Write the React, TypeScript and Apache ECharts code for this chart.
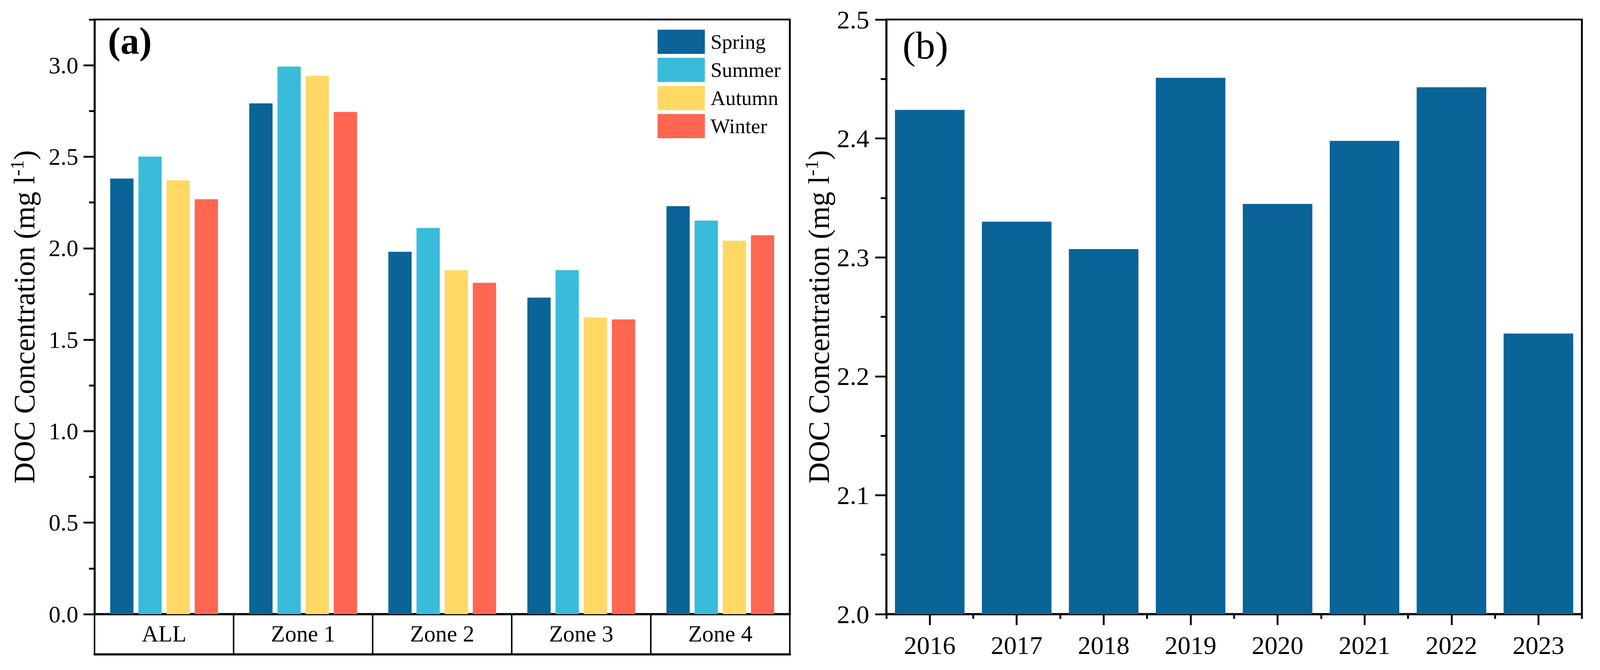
import React, { useEffect, useRef } from "react";
import * as echarts from "echarts";

const FONT = "'Liberation Serif', 'Times New Roman', serif";

// Panel (a): seasonal DOC by zone
const zoneCategories = ["ALL", "Zone 1", "Zone 2", "Zone 3", "Zone 4"];
const seasonNames = ["Spring", "Summer", "Autumn", "Winter"];
const springValues = [2.381, 2.792, 1.981, 1.73, 2.23];
const summerValues = [2.501, 2.993, 2.111, 1.88, 2.151];
const autumnValues = [2.371, 2.942, 1.88, 1.621, 2.041];
const winterValues = [2.268, 2.745, 1.811, 1.611, 2.071];
const seasonColors = ["#0A6497", "#39BCD9", "#FFD964", "#FF6652"];
const zoneMajorTicks = [0, 0.5, 1, 1.5, 2, 2.5, 3];
const zoneMinorTicks = [0.25, 0.75, 1.25, 1.75, 2.25, 2.75, 3.25];

// Panel (b): annual DOC
const years = ["2016", "2017", "2018", "2019", "2020", "2021", "2022", "2023"];
const yearValues = [2.424, 2.33, 2.307, 2.451, 2.345, 2.398, 2.443, 2.236];
const yearColor = "#0A6497";

const seasonValues = [springValues, summerValues, autumnValues, winterValues];

export default function App() {
  const ref = useRef<HTMLDivElement>(null);
  useEffect(() => {
    document.body.style.margin = "0";
    document.body.style.overflow = "hidden";
    const el = ref.current;
    if (!el) return;
    const W = window.innerWidth || 4331;
    const H = window.innerHeight || 1716;
    el.style.width = W + "px";
    el.style.height = H + "px";
    const sx = W / 4331;
    const sy = H / 1716;
    const s = Math.min(sx, sy);
    const X = (v: number) => v * sx;
    const Y = (v: number) => v * sy;
    const S = (v: number) => v * s;

    const chart = echarts.init(el, undefined, { renderer: "svg" });
    const line = { color: "#000", width: S(5) };
    const yTitle = "{t|DOC Concentration (mg l}{s|-1}{t|)}";
    const yTitleRich = {
      t: { fontSize: S(80), fontFamily: FONT, color: "#000", verticalAlign: "bottom" },
      s: { fontSize: S(52), fontFamily: FONT, color: "#000", verticalAlign: "bottom", padding: [0, 0, S(34), 0] },
    };
    const option: any = {
      animation: false,
      backgroundColor: "#fff",
      textStyle: { fontFamily: FONT, color: "#000" },
      grid: [
        { left: X(256), top: Y(50), width: X(1882), height: Y(1523), show: true, borderColor: "#000", borderWidth: S(5) },
        { left: X(2399), top: Y(50), width: X(1883), height: Y(1523), show: true, borderColor: "#000", borderWidth: S(5) },
      ],
      legend: {
        data: seasonNames,
        orient: "vertical",
        left: X(1780),
        top: Y(76),
        padding: 0,
        itemWidth: X(128),
        itemHeight: Y(62),
        itemGap: Y(10),
        icon: "rect",
        textStyle: { fontSize: S(56), fontFamily: FONT, color: "#000", padding: [0, 0, 0, X(10)] },
      },
      xAxis: [
        {
          gridIndex: 0,
          type: "category",
          data: zoneCategories,
          position: "bottom",
          boundaryGap: true,
          axisLine: { show: true, onZero: false, lineStyle: { color: "#000", width: S(6) } },
          axisTick: { show: true, interval: 0, alignWithLabel: false, length: Y(103), lineStyle: { color: "#000", width: S(4) } },
          axisLabel: { show: true, interval: 0, fontSize: S(62), fontFamily: FONT, color: "#000", margin: Y(21) },
          splitLine: { show: false },
        },
        {
          gridIndex: 0,
          type: "category",
          data: zoneCategories,
          position: "bottom",
          offset: Y(103),
          axisLine: { show: true, onZero: false, lineStyle: { color: "#000", width: S(6) } },
          axisTick: { show: false },
          axisLabel: { show: false },
          splitLine: { show: false },
        },
        {
          gridIndex: 1,
          type: "category",
          data: years,
          position: "bottom",
          boundaryGap: true,
          axisLine: { show: true, onZero: false, lineStyle: { color: "#000", width: S(6) } },
          axisTick: { show: true, interval: 0, alignWithLabel: true, length: Y(28), lineStyle: { color: "#000", width: S(5) } },
          axisLabel: { show: true, interval: 0, fontSize: S(70), fontFamily: FONT, color: "#000", margin: Y(46) },
          splitLine: { show: false },
        },
        {
          gridIndex: 1,
          type: "category",
          data: years,
          position: "bottom",
          boundaryGap: true,
          axisLine: { show: false, onZero: false },
          axisTick: { show: true, interval: 0, alignWithLabel: false, length: Y(12), lineStyle: { color: "#000", width: S(5) } },
          axisLabel: { show: false },
          splitLine: { show: false },
        },
      ],
      yAxis: [
        {
          gridIndex: 0,
          type: "value",
          position: "left",
          min: 0,
          max: 3.25,
          interval: 0.5,
          name: yTitle,
          nameLocation: "middle",
          nameRotate: 90,
          nameGap: X(150),
          nameTextStyle: { rich: yTitleRich },
          axisLine: { show: true, lineStyle: line },
          axisTick: { show: true, length: X(30), lineStyle: line, customValues: zoneMajorTicks },
          axisLabel: {
            show: true,
            fontSize: S(64),
            fontFamily: FONT,
            color: "#000",
            margin: X(44),
            customValues: zoneMajorTicks,
            formatter: (v: number) => v.toFixed(1),
          },
          splitLine: { show: false },
        },
        {
          gridIndex: 0,
          type: "value",
          position: "left",
          min: 0,
          max: 3.25,
          interval: 0.25,
          axisLine: { show: false },
          axisTick: { show: true, length: X(15), lineStyle: line, customValues: zoneMinorTicks },
          axisLabel: { show: false },
          splitLine: { show: false },
        },
        {
          gridIndex: 1,
          type: "value",
          position: "left",
          min: 2.0,
          max: 2.5,
          interval: 0.1,
          name: yTitle,
          nameLocation: "middle",
          nameRotate: 90,
          nameGap: X(142),
          nameTextStyle: { rich: yTitleRich },
          axisLine: { show: true, lineStyle: line },
          axisTick: { show: true, length: X(30), lineStyle: line },
          minorTick: { show: true, splitNumber: 2, length: X(15), lineStyle: line },
          axisLabel: {
            show: true,
            fontSize: S(70),
            fontFamily: FONT,
            color: "#000",
            margin: X(46),
            formatter: (v: number) => v.toFixed(1),
          },
          splitLine: { show: false },
          minorSplitLine: { show: false },
        },
      ],
      series: [
        ...seasonNames.map((name, i) => ({
          name,
          type: "bar",
          xAxisIndex: 0,
          yAxisIndex: 0,
          data: seasonValues[i],
          barWidth: X(63),
          barGap: "21%",
          itemStyle: { color: seasonColors[i] },
        })),
        {
          name: "Annual",
          type: "bar",
          xAxisIndex: 2,
          yAxisIndex: 2,
          data: yearValues,
          barCategoryGap: "20%",
          itemStyle: { color: yearColor },
        },
      ],
      graphic: [
        {
          type: "text",
          left: X(292),
          top: Y(56),
          style: { text: "(a)", fontSize: S(102), fontWeight: "bold", fontFamily: FONT, fill: "#000" },
        },
        {
          type: "text",
          left: X(2443),
          top: Y(66),
          style: { text: "(b)", fontSize: S(106), fontFamily: FONT, fill: "#000" },
        },
      ],
    };
    chart.setOption(option);
    return () => chart.dispose();
  }, []);
  return <div ref={ref} style={{ width: 4096, height: 1716 }} />;
}
